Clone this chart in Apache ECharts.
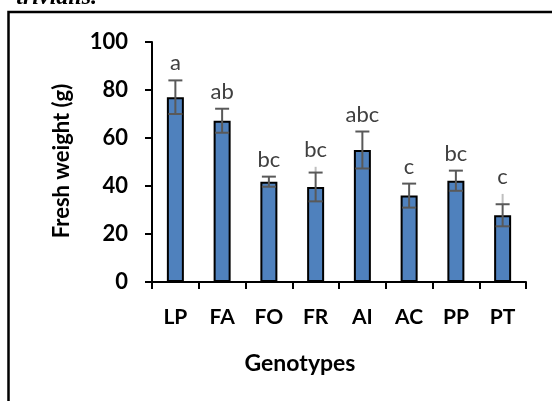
<!DOCTYPE html>
<html><head><meta charset="utf-8">
<script src="https://cdn.jsdelivr.net/npm/echarts@6/dist/echarts.min.js"></script>
<style>html,body{margin:0;padding:0;background:#fff}#c{width:552px;height:401px}</style>
</head><body><div id="c"></div>
<script>
const categories = ['LP','FA','FO','FR','AI','AC','PP','PT'];
const means = [77, 67.2, 41.8, 39.6, 55, 36, 42.2, 27.8];
const errors = [7, 5, 2.1, 6, 7.7, 5, 4.2, 4.6];
const faintTop = [null, null, null, 48, null, null, null, 36.7];
const letters = ['a','ab','bc','bc','abc','c','bc','c'];
const yTicks = [0, 20, 40, 60, 80, 100];

const FONT = 'Lato, "Open Sans", sans-serif';
const chart = echarts.init(document.getElementById('c'), null, {renderer:'canvas'});
const errData = categories.map((c,i)=>[i, means[i], errors[i], faintTop[i] == null ? -1 : faintTop[i]]);

chart.setOption({
  animation:false,
  backgroundColor:'#fff',
  grid:{left:152, right:26, top:42, bottom:119, containLabel:false},
  xAxis:{
    type:'category', data:categories,
    axisLine:{lineStyle:{color:'#000', width:2}},
    axisTick:{show:true, length:7, lineStyle:{color:'#000', width:2}},
    axisLabel:{color:'#000', fontFamily:FONT, fontWeight:'bold', fontSize:21, margin:25}
  },
  yAxis:{
    type:'value', min:yTicks[0], max:yTicks[yTicks.length-1], interval:20,
    splitLine:{show:false},
    axisLine:{show:true, lineStyle:{color:'#000', width:2}},
    axisTick:{show:true, length:7, lineStyle:{color:'#000', width:2}},
    axisLabel:{color:'#000', fontFamily:FONT, fontWeight:'bold', fontSize:22, margin:24}
  },
  graphic:[
    {type:'rect', shape:{x:8.5, y:12, width:700, height:600}, style:{fill:null, stroke:'#000', lineWidth:2.5}, z:-1},
    {type:'text', x:97, y:-14, style:{text:'trivialis.', font:'italic bold 24px "Liberation Serif", serif', fill:'#000', textAlign:'right', verticalAlign:'top'}},
    {type:'text', x:62, y:161, rotation:Math.PI/2, style:{text:'Fresh weight (g)', font:'bold 22px '+FONT, fill:'#000', textAlign:'center', verticalAlign:'middle'}},
    {type:'text', x:300, y:364, style:{text:'Genotypes', font:'bold 23px '+FONT, fill:'#000', textAlign:'center', verticalAlign:'middle'}}
  ],
  series:[
    {type:'bar', data:means, barWidth:17,
     itemStyle:{color:'#4F81BD', borderColor:'#000', borderWidth:2}, z:2},
    {type:'custom', data:errData, z:5,
     renderItem:function(params, api){
       const i = api.value(0), m = api.value(1), e = api.value(2), ft = api.value(3);
       const top = api.coord([i, m+e]), bot = api.coord([i, m-e]);
       const x = top[0], cw = 7;
       const children = [];
       let labelTopVal = m+e;
       if (ft > 0) {
         const f = api.coord([i, ft]);
         children.push({type:'line', shape:{x1:x, y1:f[1], x2:x, y2:top[1]}, style:{stroke:'#BFBFBF', lineWidth:2}});
         labelTopVal = Math.max(labelTopVal, ft);
       }
       children.push({type:'line', shape:{x1:x, y1:top[1], x2:x, y2:bot[1]}, style:{stroke:'#595959', lineWidth:2}});
       children.push({type:'line', shape:{x1:x-cw, y1:top[1], x2:x+cw, y2:top[1]}, style:{stroke:'#595959', lineWidth:2}});
       children.push({type:'line', shape:{x1:x-cw, y1:bot[1], x2:x+cw, y2:bot[1]}, style:{stroke:'#595959', lineWidth:2}});
       const lt = api.coord([i, labelTopVal]);
       children.push({type:'text', x:x, y:lt[1]-6, style:{text:letters[i], font:'22px '+FONT, fill:'#404040', textAlign:'center', verticalAlign:'bottom'}});
       return {type:'group', children:children};
     }}
  ]
});
</script></body></html>
